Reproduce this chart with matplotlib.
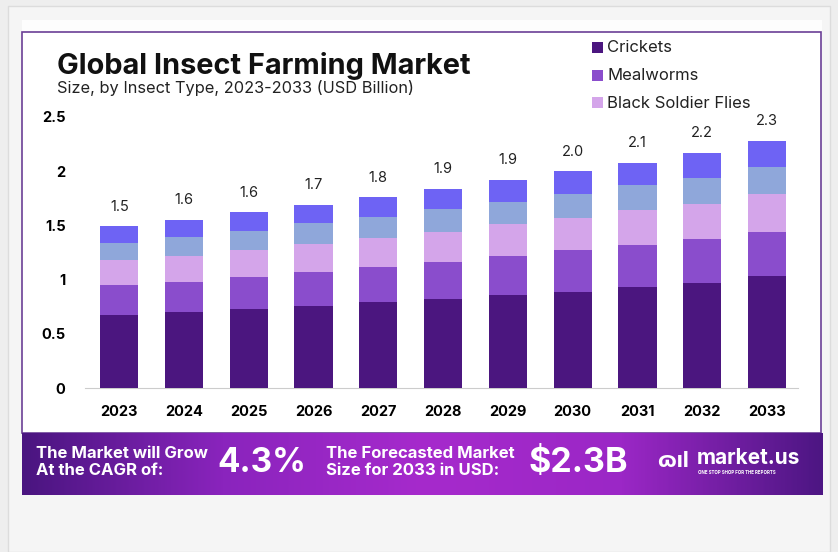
import numpy as np
import matplotlib.pyplot as plt
from matplotlib.patches import Rectangle
from matplotlib.colors import LinearSegmentedColormap

years = ["2023", "2024", "2025", "2026", "2027", "2028", "2029", "2030", "2031", "2032", "2033"]
crickets = [0.67, 0.70, 0.73, 0.76, 0.79, 0.82, 0.86, 0.89, 0.93, 0.97, 1.03]
mealworms = [0.28, 0.28, 0.29, 0.31, 0.33, 0.34, 0.36, 0.38, 0.39, 0.40, 0.41]
soldier_flies = [0.23, 0.24, 0.25, 0.26, 0.26, 0.28, 0.29, 0.30, 0.32, 0.33, 0.35]
other_1 = [0.16, 0.17, 0.18, 0.19, 0.20, 0.21, 0.21, 0.22, 0.23, 0.24, 0.25]
other_2 = [0.15, 0.16, 0.17, 0.17, 0.18, 0.19, 0.20, 0.21, 0.21, 0.23, 0.24]
total_labels = ["1.5", "1.6", "1.6", "1.7", "1.8", "1.9", "1.9", "2.0", "2.1", "2.2", "2.3"]
legend_names = ["Crickets", "Mealworms", "Black Soldier Flies"]

colors = ["#4b167f", "#8a4dcc", "#d4a5ea", "#8fa7da", "#6e63f4"]

plt.rcParams["font.family"] = ["Inter", "DejaVu Sans"]

W, H = 838, 552
fig = plt.figure(figsize=(W / 100, H / 100), dpi=100, facecolor="#eeeeee")

def fx(x):
    return x / W

def fy(y):
    return 1 - y / H

# card backgrounds (kept behind the axes)
fig.patches.append(Rectangle((fx(8), 0), fx(822), fy(6), transform=fig.transFigure,
                             facecolor="#f5f5f5", edgecolor="#dcdcdc", lw=1, zorder=-3))
fig.patches.append(Rectangle((fx(22), fy(433)), fx(800), (413) / H, transform=fig.transFigure,
                             facecolor="#fdfdfd", edgecolor="none", zorder=-2))
fig.patches.append(Rectangle((fx(22), fy(433)), fx(799), (401) / H, transform=fig.transFigure,
                             facecolor="white", edgecolor="#6b3f96", lw=1.2, zorder=-1))

ax = fig.add_axes([fx(85), fy(388), fx(798 - 85), (388 - 117) / H])
ax.set_facecolor("none")
x = np.arange(len(years))
series = [crickets, mealworms, soldier_flies, other_1, other_2]
bottom = np.zeros(len(years))
for vals, c in zip(series, colors):
    ax.bar(x, vals, width=0.59, bottom=bottom, color=c, zorder=3)
    bottom += np.array(vals)

for xi, tot, lab in zip(x, bottom, total_labels):
    ax.annotate(lab, (xi, tot), xytext=(0, 9), textcoords="offset points",
                ha="center", va="bottom", fontsize=10.5, color="#222222")

ax.set_xlim(-0.53, 10.48)
ax.set_ylim(0, 2.5)
ax.set_xticks(x)
ax.set_xticklabels(years, fontsize=10.5, fontweight="bold")
ax.set_yticks([0, 0.5, 1, 1.5, 2, 2.5])
ax.set_yticklabels(["0", "0.5", "1", "1.5", "2", "2.5"], fontsize=10.5, fontweight="bold")
ax.tick_params(axis="y", length=0, pad=14)
ax.tick_params(axis="x", length=0, pad=12)
for s in ["top", "right", "left"]:
    ax.spines[s].set_visible(False)
ax.spines["bottom"].set_color("#cccccc")

# title
fig.text(fx(57), fy(66), "Global Insect Farming Market", fontsize=20.8, fontweight="bold",
         color="#111111", va="center", ha="left")
fig.text(fx(57), fy(88), "Size, by Insect Type, 2023-2033 (USD Billion)", fontsize=11.8,
         color="#222222", va="center", ha="left")

# legend
for i, (name, c) in enumerate(zip(legend_names, colors[:3])):
    yy = 48 + i * 27.5
    fig.patches.append(Rectangle((fx(592), fy(yy + 5)), fx(11), 11 / H, transform=fig.transFigure,
                                 facecolor=c, edgecolor="none", zorder=2))
    fig.text(fx(607), fy(yy), name, fontsize=12, color="#222222", va="center", ha="left")

# banner
bax = fig.add_axes([fx(22), fy(495), fx(800), 62 / H])
cmap = LinearSegmentedColormap.from_list("band", ["#4a1580", "#8a24bd", "#a62acc", "#9b27c6", "#4d1683"])
bax.imshow(np.linspace(0, 1, 400).reshape(1, -1), aspect="auto", cmap=cmap, extent=[0, 1, 0, 1])
bax.axis("off")

fig.text(fx(36), fy(462), "The Market will Grow\nAt the CAGR of:", fontsize=12, fontweight="bold",
         color="white", va="center", ha="left", linespacing=1.2)
fig.text(fx(217), fy(463), "4.3%", fontsize=24, fontweight="bold", color="white", va="center", ha="left")
fig.text(fx(326), fy(462), "The Forecasted Market\nSize for 2033 in USD:", fontsize=12, fontweight="bold",
         color="white", va="center", ha="left", linespacing=1.2)
fig.text(fx(529), fy(463), "$2.3B", fontsize=24.5, fontweight="bold", color="white", va="center", ha="left")
fig.text(fx(656), fy(461), "ɷıl", fontsize=16, fontweight="bold", color="white", va="center", ha="left")
fig.text(fx(697), fy(458), "market.us", fontsize=15, fontweight="bold", color="white", va="center", ha="left")
fig.text(fx(698), fy(472), "ONE STOP SHOP FOR THE REPORTS", fontsize=3.2, fontweight="bold",
         color="white", va="center", ha="left")

fig.savefig("out.png", dpi=100, facecolor=fig.get_facecolor())
